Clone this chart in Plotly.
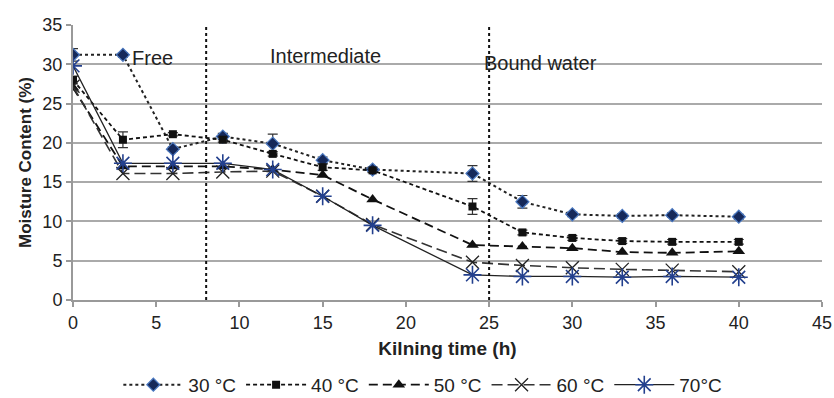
import plotly.graph_objects as go

time_h = [0, 3, 6, 9, 12, 15, 18, 24, 27, 30, 33, 36, 40]

mc_30 = [31.2, 31.2, 19.2, 20.8, 19.9, 17.8, 16.6, 16.1, 12.5, 10.9, 10.7, 10.8, 10.6]
err_30 = [0.8, 0.3, 0.3, 0.4, 1.2, 0.4, 0.3, 1.0, 0.8, 0.3, 0.3, 0.3, 0.3]
mc_40 = [28.0, 20.4, 21.1, 20.4, 18.6, 16.9, 16.5, 11.9, 8.6, 7.9, 7.5, 7.4, 7.4]
err_40 = [0.5, 1.0, 0.2, 0.3, 0.3, 0.4, 0.3, 1.0, 0.3, 0.3, 0.3, 0.3, 0.3]
mc_50 = [27.0, 17.0, 17.0, 17.0, 16.6, 15.9, 12.8, 7.0, 6.8, 6.6, 6.1, 6.0, 6.2]
mc_60 = [27.2, 16.1, 16.1, 16.3, 16.4, 13.2, 9.6, 4.8, 4.4, 4.1, 3.9, 3.8, 3.6]
mc_70 = [29.8, 17.4, 17.4, 17.4, 16.6, 13.2, 9.5, 3.2, 3.0, 3.0, 2.9, 3.0, 2.9]

series_names = ["30 °C", "40 °C", "50 °C", "60 °C", "70°C"]

x_ticks = [0, 5, 10, 15, 20, 25, 30, 35, 40, 45]
y_ticks = [0, 5, 10, 15, 20, 25, 30, 35]
phase_bounds = [8, 25]
phase_labels = ["Free", "Intermediate", "Bound water"]
phase_label_x = [3.4, 11.7, 24.6]
phase_label_y = [30.8, 31.1, 30.2]

FONT = "Liberation Sans, Arial, sans-serif"
navy = "#23408e"

fig = go.Figure()

fig.add_trace(go.Scatter(
    x=time_h, y=mc_30, name=series_names[0], mode="lines+markers",
    line=dict(color="#222222", width=2, dash="dot"),
    marker=dict(symbol="diamond", size=10, color="#16295a",
                line=dict(color="#4a78c0", width=1.2)),
    error_y=dict(type="data", array=err_30, color="#333333", thickness=1.2, width=5),
))
fig.add_trace(go.Scatter(
    x=time_h, y=mc_40, name=series_names[1], mode="lines+markers",
    line=dict(color="#111111", width=1.8, dash="4px,3px"),
    marker=dict(symbol="square", size=8, color="#111111"),
    error_y=dict(type="data", array=err_40, color="#333333", thickness=1.2, width=5),
))
fig.add_trace(go.Scatter(
    x=time_h, y=mc_50, name=series_names[2], mode="lines+markers",
    line=dict(color="#111111", width=1.8, dash="9px,5px"),
    marker=dict(symbol="triangle-up", size=11, color="#111111"),
))
fig.add_trace(go.Scatter(
    x=time_h, y=mc_60, name=series_names[3], mode="lines+markers",
    line=dict(color="#333333", width=1.6, dash="11px,5px"),
    marker=dict(symbol="x-thin-open", size=13, color="#222222",
                line=dict(color="#222222", width=1.3)),
))
fig.add_trace(go.Scatter(
    x=time_h, y=mc_70, name=series_names[4], mode="lines+markers",
    line=dict(color="#222222", width=1.3),
    marker=dict(symbol="asterisk-open", size=15, color=navy,
                line=dict(color=navy, width=1.6)),
))

for xb in phase_bounds:
    fig.add_shape(type="line", x0=xb, x1=xb, y0=0, y1=35, xref="x", yref="y",
                  line=dict(color="#111111", width=2, dash="dot"))

for lab, lx, ly in zip(phase_labels, phase_label_x, phase_label_y):
    fig.add_annotation(x=lx, y=ly, text=lab, showarrow=False, xanchor="left",
                       yanchor="middle", font=dict(family=FONT, size=20, color="#222222"))

fig.update_layout(
    width=834, height=398,
    margin=dict(l=73, r=12, t=25, b=98, autoexpand=False),
    paper_bgcolor="white", plot_bgcolor="white",
    font=dict(family=FONT, size=17, color="#222222"),
    showlegend=True,
    legend=dict(orientation="h", x=0.507, xref="container", xanchor="center",
                y=0.033, yref="container", yanchor="middle",
                font=dict(family=FONT, size=19, color="#222222"),
                itemwidth=60, tracegroupgap=0),
)
fig.update_xaxes(
    range=[0, 45], tickvals=x_ticks, ticktext=[str(v) for v in x_ticks],
    showgrid=False, zeroline=False, showline=True, linecolor="#999999", linewidth=2,
    ticks="outside", tickcolor="#999999", ticklen=5, tickwidth=1.5,
    tickfont=dict(family=FONT, size=18, color="#222222"),
    title=dict(text="<b>Kilning time (h)</b>", font=dict(family=FONT, size=19, color="#222222"), standoff=10),
)
fig.update_yaxes(
    range=[0, 35], tickvals=y_ticks, ticktext=[str(v) for v in y_ticks],
    showgrid=True, gridcolor="#aaaaaa", gridwidth=1.5, zeroline=False,
    showline=True, linecolor="#999999", linewidth=2,
    ticks="outside", tickcolor="#999999", ticklen=5, tickwidth=1.5,
    tickfont=dict(family=FONT, size=18, color="#222222"),
    title=dict(text="<b>Moisture Content (%)</b>", font=dict(family=FONT, size=17, color="#222222"), standoff=6),
)

fig.write_html("out.html")
